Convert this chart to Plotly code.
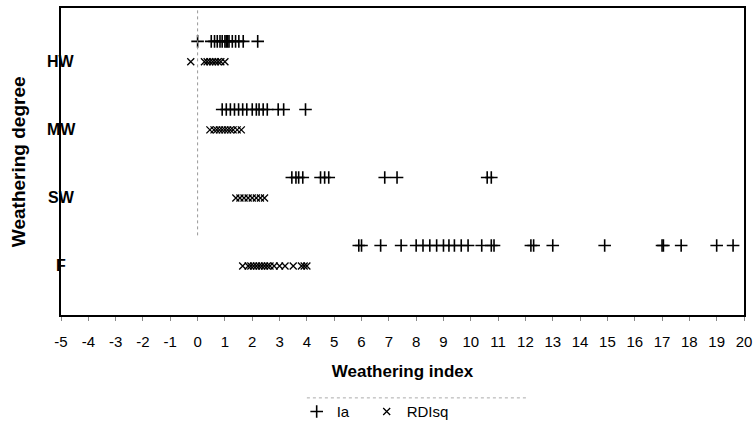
import plotly.graph_objects as go

categories = ["HW", "MW", "SW", "F"]
cat_pos = {"HW": 4, "MW": 3, "SW": 2, "F": 1}

ia_HW = [0.0, 0.5, 0.62, 0.72, 0.82, 0.9, 1.0, 1.05, 1.1, 1.15, 1.27, 1.39, 1.51, 1.67, 2.2]
ia_MW = [0.9, 1.05, 1.2, 1.35, 1.5, 1.65, 1.8, 2.0, 2.15, 2.25, 2.4, 2.55, 2.95, 3.15, 3.95]
ia_SW = [3.45, 3.6, 3.7, 3.85, 4.5, 4.65, 4.8, 6.85, 7.3, 10.6, 10.75]
ia_F = [5.9, 6.0, 6.7, 7.45, 8.0, 8.25, 8.5, 8.75, 9.0, 9.2, 9.4, 9.65, 9.9,
        10.4, 10.75, 10.85, 12.2, 12.3, 13.0, 14.9, 17.0, 17.05, 17.7, 19.0, 19.6]

rd_HW = [-0.25, 0.25, 0.35, 0.45, 0.55, 0.65, 0.75, 0.85, 1.0]
rd_MW = [0.45, 0.6, 0.7, 0.8, 0.9, 1.0, 1.1, 1.2, 1.3, 1.45, 1.6]
rd_SW = [1.4, 1.55, 1.7, 1.85, 2.0, 2.15, 2.3, 2.45]
rd_F = [1.65, 1.85, 1.95, 2.05, 2.15, 2.25, 2.35, 2.45, 2.55, 2.65, 2.8,
        3.0, 3.2, 3.5, 3.8, 3.9, 4.0]

x_ticks = list(range(-5, 21))
x_tick_labels = [str(v) for v in x_ticks]

ia_series = {"HW": ia_HW, "MW": ia_MW, "SW": ia_SW, "F": ia_F}
rd_series = {"HW": rd_HW, "MW": rd_MW, "SW": rd_SW, "F": rd_F}
ia_offset = 0.3

ia_x, ia_y, rd_x, rd_y = [], [], [], []
for c in categories:
    ia_x += ia_series[c]
    ia_y += [cat_pos[c] + ia_offset] * len(ia_series[c])
    rd_x += rd_series[c]
    rd_y += [cat_pos[c]] * len(rd_series[c])

FONT = "Liberation Sans, Arial"
NARROW = "Liberation Sans Narrow, Arial Narrow, Liberation Sans, Arial"

fig = go.Figure()
fig.add_trace(go.Scatter(
    x=ia_x, y=ia_y, mode="markers", name="Ia" + "\u00a0" * 3,
    marker=dict(symbol="cross-thin", size=9, color="black",
                line=dict(color="black", width=1.6)),
))
fig.add_trace(go.Scatter(
    x=rd_x, y=rd_y, mode="markers", name="RDIsq",
    marker=dict(symbol="x-thin", size=7, color="black",
                line=dict(color="black", width=1.3)),
))

# vertical dotted line at x = 0
fig.add_shape(type="line", xref="x", yref="y", x0=0, x1=0, y0=1.45, y1=4.79,
              line=dict(color="#999999", width=1, dash="dot"))

for c in categories:
    fig.add_annotation(x=0, xref="paper", y=cat_pos[c], yref="y", text="<b>%s</b>" % c,
                       showarrow=False, xanchor="center", yanchor="middle",
                       font=dict(family=FONT, size=16, color="black"))

# legend top border (dotted)
fig.add_shape(type="line", xref="paper", yref="paper", x0=0.36, x1=0.685, y0=-0.27, y1=-0.27,
              line=dict(color="#aaaaaa", width=1, dash="dot"))

fig.update_layout(
    width=756, height=444,
    margin=dict(l=61, r=12, t=8, b=129, autoexpand=False),
    paper_bgcolor="white", plot_bgcolor="white",
    font=dict(family=FONT, color="black"),
    showlegend=True,
    legend=dict(orientation="h", x=0.46, xanchor="center", y=-0.315, yanchor="middle",
                bgcolor="rgba(0,0,0,0)",
                font=dict(size=15, family=NARROW), itemwidth=30, traceorder="normal"),
    xaxis=dict(range=[-5, 20], tickmode="array", tickvals=x_ticks, ticktext=x_tick_labels,
               showgrid=False, zeroline=False, automargin=False,
               showline=True, linecolor="black", linewidth=1.5, mirror=True,
               ticks="outside", ticklen=4, tickcolor="#888888",
               tickfont=dict(size=15, family=NARROW), ticklabelstandoff=8,
               title=dict(text="<b>Weathering index</b>", font=dict(size=17, family=FONT),
                          standoff=16)),
    yaxis=dict(range=[0.28, 4.79], showgrid=False, zeroline=False, showticklabels=False,
               automargin=False,
               showline=True, linecolor="black", linewidth=1.5, mirror=True, ticks=""),
)
fig.add_annotation(x=-0.062, xref="paper", y=0.5, yref="paper", text="<b>Weathering degree</b>",
                   textangle=-90, showarrow=False, xanchor="center", yanchor="middle",
                   font=dict(family=FONT, size=19, color="black"))

fig.write_html("out.html", config={"displayModeBar": False},
               post_script="document.body.style.margin='0';")
